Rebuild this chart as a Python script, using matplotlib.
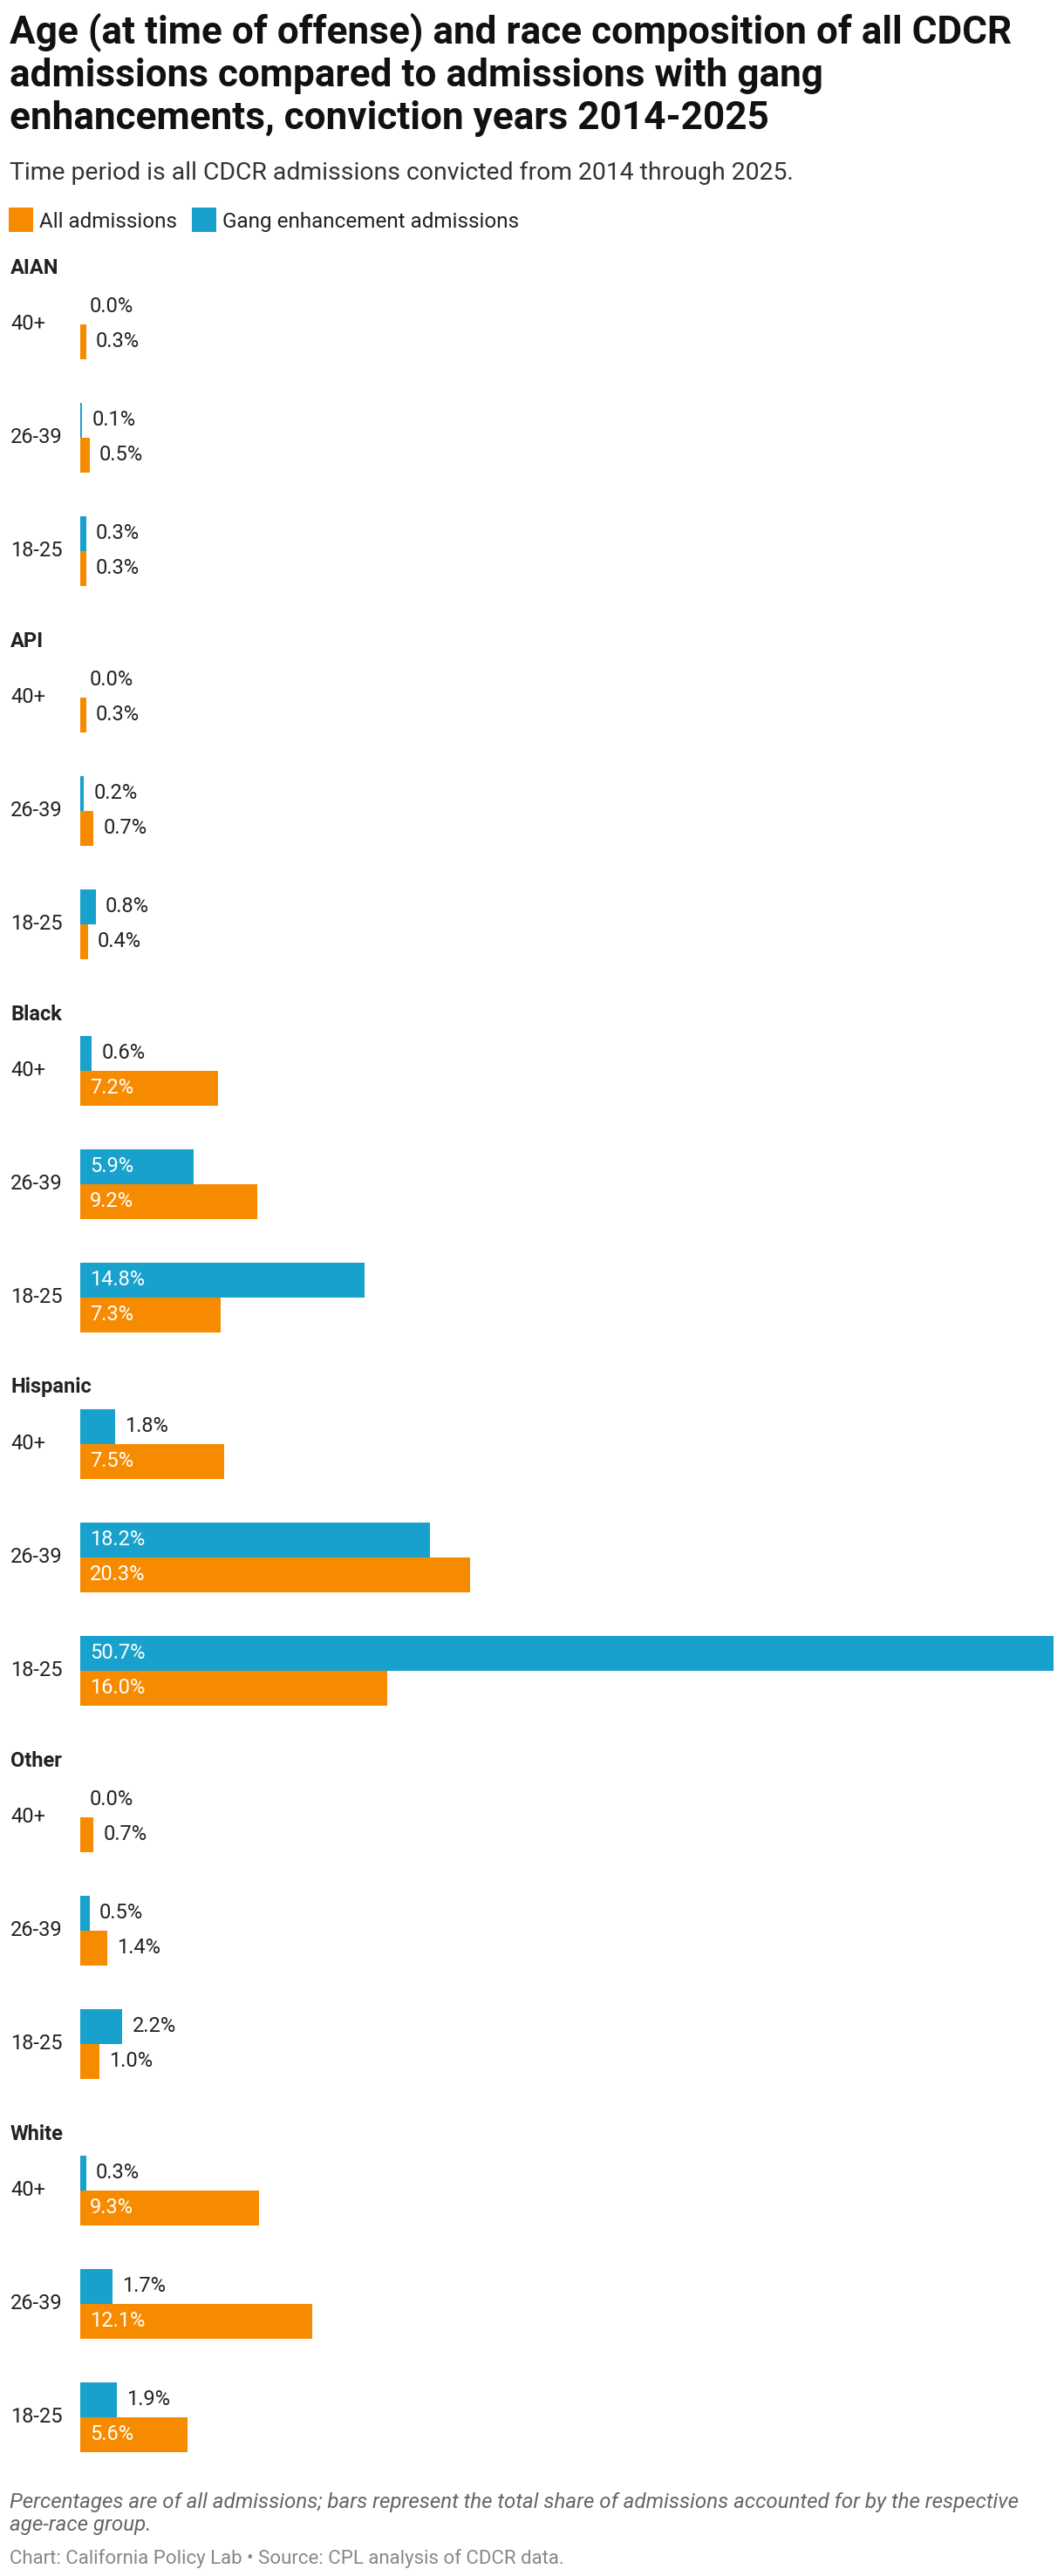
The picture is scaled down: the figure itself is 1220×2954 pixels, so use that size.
import matplotlib
matplotlib.use('Agg')
import matplotlib.pyplot as plt
import matplotlib.transforms as mtransforms
from matplotlib.patches import Rectangle

plt.rcParams['font.family'] = ['Roboto', 'DejaVu Sans']

# data
races = ['AIAN', 'API', 'Black', 'Hispanic', 'Other', 'White']
ages = ['40+', '26-39', '18-25']
all_adm = [[0.3, 0.5, 0.3],
           [0.3, 0.7, 0.4],
           [7.2, 9.2, 7.3],
           [7.5, 20.3, 16.0],
           [0.7, 1.4, 1.0],
           [9.3, 12.1, 5.6]]
gang_adm = [[0.0, 0.1, 0.3],
            [0.0, 0.2, 0.8],
            [0.6, 5.9, 14.8],
            [1.8, 18.2, 50.7],
            [0.0, 0.5, 2.2],
            [0.3, 1.7, 1.9]]

title_lines = ['Age (at time of offense) and race composition of all CDCR',
               'admissions compared to admissions with gang',
               'enhancements, conviction years 2014-2025']
subtitle = 'Time period is all CDCR admissions convicted from 2014 through 2025.'
legend_labels = ['All admissions', 'Gang enhancement admissions']
note_lines = ['Percentages are of all admissions; bars represent the total share of admissions accounted for by the respective',
              'age-race group.']
source = 'Chart: California Policy Lab \u2022 Source: CPL analysis of CDCR data.'

ORANGE = '#f78b00'
BLUE = '#18a1cd'
DARK = '#222222'

W, H = 1220, 2954
fig = plt.figure(figsize=(W / 100, H / 100), dpi=100)

def fy(px):
    return 1 - px / H

# titles
for i, line in enumerate(title_lines):
    fig.text(11 / W, fy(50 + i * 49), line, fontsize=31.8, fontweight='bold',
             color='#111111', va='baseline', ha='left')
fig.text(11 / W, fy(206), subtitle, fontsize=20.4, color='#333333', va='baseline')

# legend
fig.add_artist(Rectangle((10 / W, fy(266)), 28 / W, 28 / H, transform=fig.transFigure,
                         color=ORANGE, lw=0))
fig.text(45 / W, fy(261), legend_labels[0], fontsize=17.5, color=DARK, va='baseline')
fig.add_artist(Rectangle((220 / W, fy(266)), 28 / W, 28 / H, transform=fig.transFigure,
                         color=BLUE, lw=0))
fig.text(255 / W, fy(261), legend_labels[1], fontsize=17.5, color=DARK, va='baseline')

# chart area, y in pixel rows
top, bottom = 280, 2830
ax = fig.add_axes([92 / W, fy(bottom), 1116 / W, (bottom - top) / H])
ax.set_xlim(0, max(max(r) for r in gang_adm))
ax.set_ylim(bottom, top)
ax.axis('off')

group_step = 428
row_step = 130
bar_h = 40
trans_lbl = mtransforms.blended_transform_factory(fig.transFigure, ax.transData)

for g, race in enumerate(races):
    head_y = 307 + g * group_step
    fig.text(12 / W, head_y, race, transform=trans_lbl, fontsize=17, fontweight='bold',
             color=DARK, va='center')
    centers = [372 + g * group_step + r * row_step for r in range(len(ages))]
    ax.barh([c - bar_h / 2 for c in centers], gang_adm[g], height=bar_h, color=BLUE, lw=0)
    ax.barh([c + bar_h / 2 for c in centers], all_adm[g], height=bar_h, color=ORANGE, lw=0)
    for r, age in enumerate(ages):
        fig.text(12 / W, centers[r], age, transform=trans_lbl, fontsize=17,
                 color=DARK, va='center')
        for val, dy in ((gang_adm[g][r], -bar_h / 2), (all_adm[g][r], bar_h / 2)):
            txt = f'{val:.1f}%'
            if val > 3.5:
                ax.annotate(txt, (0, centers[r] + dy), xytext=(11, 0),
                            textcoords='offset pixels', color='white',
                            fontsize=17, va='center', ha='left')
            else:
                ax.annotate(txt, (val, centers[r] + dy), xytext=(11, 0),
                            textcoords='offset pixels', color=DARK,
                            fontsize=17, va='center', ha='left')

# notes
fig.text(11 / W, fy(2876), note_lines[0], fontsize=17.4, style='italic',
         color='#666666', va='baseline')
fig.text(11 / W, fy(2902), note_lines[1], fontsize=17.4, style='italic',
         color='#666666', va='baseline')
fig.text(11 / W, fy(2940), source, fontsize=16, color='#888888', va='baseline')

fig.savefig('out.png', dpi=100, facecolor='white')
